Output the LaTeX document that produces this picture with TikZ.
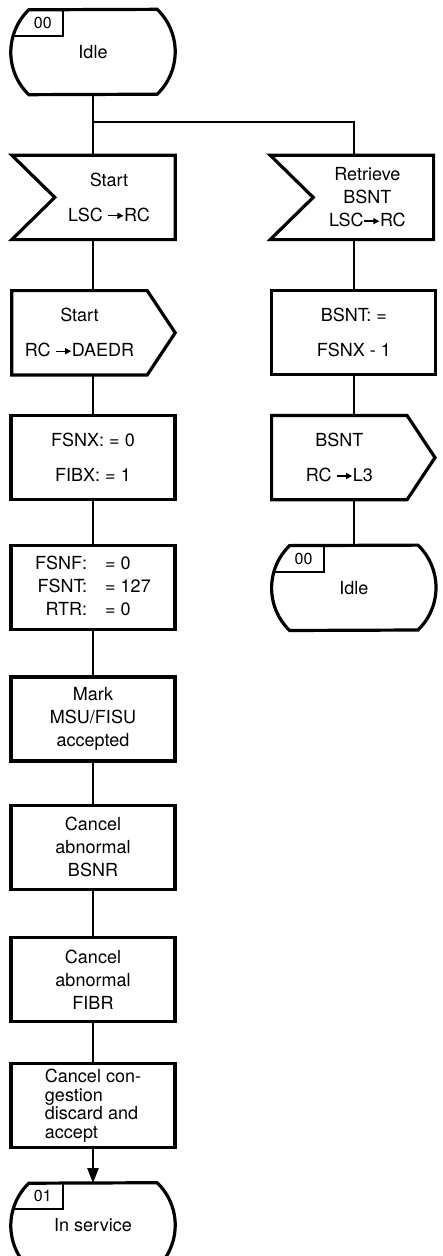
\documentclass[tikz,border=0pt]{standalone}
\usepackage{fontspec}
\setmainfont{TeX Gyre Heros}
\usetikzlibrary{positioning,arrows.meta}

% small signal arrow used inside the texts
\newcommand{\sigto}{\tikz[baseline=-0.6ex]\draw[line width=1.3pt,-{Triangle[length=6pt,width=6pt]}] (0,0) -- (15pt,0);}

% outline and number tag of a state node
\newcommand{\stateframe}[2]{%
  \draw[frame] ([xshift=18pt]#1.north west) arc[start angle=134,end angle=226,radius=59pt]
    -- ([xshift=-18pt]#1.south east) arc[start angle=-46,end angle=46,radius=59pt] -- cycle;
  \draw[tagline] ([xshift=2.5pt,yshift=-26pt]#1.north west) -| ([xshift=52pt]#1.north west);
  \node[tagtext] at ([xshift=32pt,yshift=-13pt]#1.north west) {#2};
}
% received signal: notch on the left
\newcommand{\inframe}[1]{%
  \draw[frame] ([xshift=-31pt]#1.north west) -- (#1.north east) -- (#1.south east)
    -- ([xshift=-31pt]#1.south west) -- ([xshift=12pt]#1.west) -- cycle;
}
% sent signal: point on the right
\newcommand{\outframe}[1]{%
  \draw[frame] (#1.north west) -- (#1.north east) -- ([xshift=28pt]#1.east)
    -- (#1.south east) -- (#1.south west) -- cycle;
}

\begin{document}
\begin{tikzpicture}[
      frame/.style={line width=3.2pt,line join=miter},
      tagline/.style={line width=1.9pt},
      tagtext/.style={font=\fontsize{16}{18}\selectfont,inner sep=0pt},
      base/.style={font=\fontsize{18}{23}\selectfont,minimum width=164pt,
                   minimum height=84pt,inner sep=2pt,align=center},
      state/.style={base},
      box/.style={base,draw,frame},
      insig/.style={base,minimum width=132pt},
      outsig/.style={base,minimum width=135pt},
      link/.style={line width=2.2pt}
    ]
    \useasboundingbox (0,0) rectangle (442pt,-1256pt);

    % left column
    \node[state] (idle) at (93pt,-52pt) {Idle};
    \node[insig, below=61pt of idle, xshift=16pt] (start) {Start\\[12pt]LSC \sigto RC};
    \node[outsig, below=51pt of start, xshift=-29.5pt] (startout) {Start\\[12pt]RC \sigto DAEDR};
    \node[box, below=39pt of startout, xshift=13.5pt] (fsnx) {FSNX: = 0\\[12pt]FIBX: = 1};
    \node[box, below=43pt of fsnx] (fsnf) {\begin{tabular}{@{}r@{\hspace{18pt}}l@{}}
        FSNF: & = 0\\ FSNT: & = 127\\ RTR: & = 0\end{tabular}};
    \node[box, below=44pt of fsnf] (mark) {Mark\\MSU/FISU\\accepted};
    \node[box, below=41pt of mark] (bsnr) {Cancel\\abnormal\\BSNR};
    \node[box, below=45pt of bsnr] (fibr) {Cancel\\abnormal\\FIBR};
    \node[box, below=39pt of fibr, align=left,
          font=\fontsize{18}{18.5}\selectfont] (congest) {Cancel con-\\gestion\\discard and\\accept};
    \node[state, below=34pt of congest] (inservice) {In service};

    % right column
    \node[insig, right=126pt of start] (retrieve) {Retrieve\\BSNT\\LSC\sigto RC};
    \node[box, right=123pt of startout] (bsnt) {BSNT: =\\[12pt]FSNX - 1};
    \node[outsig, right=95pt of fsnx] (bsntout) {BSNT\\[12pt]RC \sigto L3};
    \node[state, right=95pt of fsnf] (idleb) {Idle};

    % outlines
    \stateframe{idle}{00}
    \stateframe{idleb}{00}
    \stateframe{inservice}{01}
    \inframe{start}
    \inframe{retrieve}
    \outframe{startout}
    \outframe{bsntout}

    % connections
    \coordinate[below=28pt of idle] (split);
    \draw[link] (idle.south) -- (idle.south |- start.north);
    \draw[link] (split) -| (bsnt.north |- retrieve.north);
    \draw[link] (fsnx.north |- start.south) -- (fsnx.north |- startout.north);
    \draw[link] (fsnx.north |- startout.south) -- (fsnx.north);
    \draw[link] (fsnx) -- (fsnf);
    \draw[link] (fsnf) -- (mark);
    \draw[link] (mark) -- (bsnr);
    \draw[link] (bsnr) -- (fibr);
    \draw[link] (fibr) -- (congest);
    \draw[link,-{Triangle[length=15pt,width=11pt]}] (congest) -- (inservice);
    \draw[link] (bsnt.north |- retrieve.south) -- (bsnt.north);
    \draw[link] (bsnt.south) -- (bsnt.south |- bsntout.north);
    \draw[link] (bsnt.south |- bsntout.south) -- (idleb.north);

  \end{tikzpicture}
\end{document}
